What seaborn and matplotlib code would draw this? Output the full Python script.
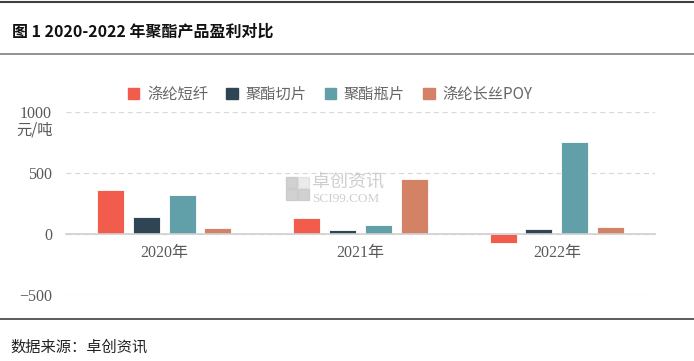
import pandas as pd
import seaborn as sns
import matplotlib.pyplot as plt
from matplotlib.patches import Rectangle

# values (元/吨)
years = ["2020年", "2021年", "2022年"]
products = ["涤纶短纤", "聚酯切片", "聚酯瓶片", "涤纶长丝POY"]
staple_fiber = [360, 128, -76]
chips = [142, 35, 41]
bottle_chips = [320, 74, 752]
poy = [47, 453, 60]
yticks = [-500, 0, 500, 1000]

colors = ["#F25C4C", "#2F4553", "#61A0A8", "#D48265"]

rows = []
for name, vals in zip(products, [staple_fiber, chips, bottle_chips, poy]):
    for y, v in zip(years, vals):
        rows.append({"year": y, "product": name, "value": v})
df = pd.DataFrame(rows)

sns.set_theme(style="white")
plt.rcParams["font.family"] = ["Liberation Serif", "Noto Sans CJK SC", "DejaVu Sans"]

fig = plt.figure(figsize=(6.94, 3.61), dpi=100)
ax = fig.add_axes([66 / 694, 1 - 295 / 361, 589 / 694, 183 / 361])

sns.barplot(data=df, x="year", y="value", hue="product", order=years,
            hue_order=products, palette=colors, width=0.73, gap=0.25,
            saturation=1, edgecolor="white", linewidth=0.6, ax=ax)

ax.set_ylim(-500, 1000)
ax.set_xlim(-0.5, 2.5)
ax.set_yticks(yticks)
ax.set_yticklabels([str(t).replace("-", "\u2212") for t in yticks])
ax.set_xlabel("")
ax.set_ylabel("")
for s in ["top", "right", "left"]:
    ax.spines[s].set_visible(False)
ax.spines["bottom"].set_position(("data", 0))
ax.spines["bottom"].set_color("#d0d0d0")
ax.spines["bottom"].set_linewidth(1.2)
ax.yaxis.grid(True, linestyle=(0, (4, 3)), color="#d9d9d9", linewidth=0.9)
ax.set_axisbelow(True)
ax.tick_params(axis="x", length=0, pad=8, labelsize=11.5, labelcolor="#595959")
ax.tick_params(axis="y", length=0, pad=10, labelsize=11.5, labelcolor="#595959")
ax.get_legend().remove()

handles = [Rectangle((0, 0), 1, 1, color=c) for c in colors]
fig.legend(handles, products, loc="center", bbox_to_anchor=(330 / 694, 1 - 94 / 361),
           ncol=4, frameon=False, handlelength=0.75, handleheight=0.75,
           handletextpad=0.5, columnspacing=1.2,
           prop={"family": ["Noto Sans CJK SC"], "size": 11}, labelcolor="#666666")

fig.text(53 / 694, 1 - 130 / 361, "元/吨", ha="right", va="center", fontsize=11,
         color="#595959", family=["Noto Sans CJK SC"])

# watermark
wm = "#c6c6c6"
for dx, dy, a in [(0, 0, 0.8), (12, 0, 0.8), (0, 12, 0.8), (12, 12, 0.35)]:
    fig.patches.append(Rectangle(((286 + dx) / 694, 1 - (200 - dy) / 361), 11 / 694, 11 / 361,
                                 transform=fig.transFigure, color=wm, alpha=a))
fig.text(312 / 694, 1 - 182 / 361, "卓创资讯", ha="left", va="center", fontsize=13,
         color=wm, alpha=0.85, family=["Noto Sans CJK SC"])
fig.text(312 / 694, 1 - 199 / 361, "SCI99.COM", ha="left", va="center", fontsize=9.5,
         color=wm, alpha=0.85, family=["Liberation Serif"])

# title, rules, source
fig.add_artist(plt.Line2D([0, 1], [1 - 2 / 361, 1 - 2 / 361], color="#404040", linewidth=1.5))
fig.add_artist(plt.Line2D([0, 1], [1 - 54 / 361, 1 - 54 / 361], color="#7f7f7f", linewidth=1.2))
fig.add_artist(plt.Line2D([0, 1], [1 - 319 / 361, 1 - 319 / 361], color="#404040", linewidth=1.2))
fig.text(12 / 694, 1 - 32 / 361, "图 1 2020-2022 年聚酯产品盈利对比", ha="left", va="center",
         fontsize=11.5, fontweight="bold", color="#111111", family=["Noto Sans CJK SC"])
fig.text(10 / 694, 1 - 347 / 361, "数据来源：卓创资讯", ha="left", va="center",
         fontsize=11, color="#222222", family=["Noto Sans CJK SC"])

fig.savefig("out.png", dpi=100)
